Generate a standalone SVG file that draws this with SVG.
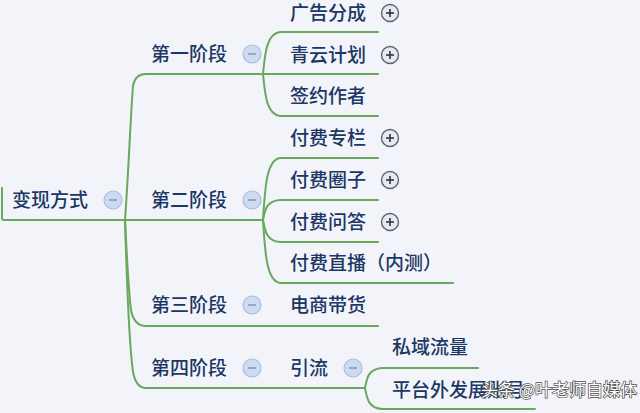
<svg xmlns="http://www.w3.org/2000/svg" width="640" height="413" viewBox="0 0 640 413">
<style>
  .t { font-family: "Noto Sans CJK SC", "Liberation Sans", sans-serif; font-size: 19px; font-weight: 500; fill: #1b3766; }
  .wm { font-family: "Noto Sans CJK SC", "Liberation Sans", sans-serif; font-size: 17px; fill: #ffffff; stroke: #4a4a4a; stroke-width: 1.4; paint-order: stroke; }
  .ln { fill: none; stroke: #6aa85f; stroke-width: 2; stroke-linecap: round; }
  .mc { fill: #cddbf0; stroke: #a8bfe2; stroke-width: 1.2; }
  .pc { fill: #e6e9f0; stroke: #5b6473; stroke-width: 1.4; }
  .ms { stroke: #8a9ab5; stroke-width: 1.6; }
  .ps { stroke: #2f3642; stroke-width: 1.6; }
</style>
<defs>
  <g id="minus"><circle r="9" class="mc"/><line x1="-4" y1="0" x2="4" y2="0" class="ms"/></g>
  <g id="plus"><circle r="8.5" class="pc"/><line x1="-4" y1="0" x2="4" y2="0" class="ps"/><line x1="0" y1="-4" x2="0" y2="4" class="ps"/></g>
</defs>
<rect width="640" height="413" fill="#f3f4f9"/>

<g id="connectors">
  <path class="ln" d="M2,188 L2,218 Q2,220 4,220 L263,220"/>
  <path class="ln" d="M125,220 C128,180 131,110 133,86 Q135,74 146,74 L263,74"/>
  <path class="ln" d="M125,220 C127,260 129,295 131,310 Q134,326 146,326 L378,326"/>
  <path class="ln" d="M125,220 C127,290 130,350 133,372 Q136,388 146,388 L365,388"/>
  <path class="ln" d="M263,74 C265,55 266,34 280,32 L378,32"/>
  <path class="ln" d="M263,74 L378,74"/>
  <path class="ln" d="M263,74 C265,93 266,114 280,116 L378,116"/>
  <path class="ln" d="M263,220 C265,190 266,160 280,158 L378,158"/>
  <path class="ln" d="M263,220 C265,210 266,201 280,200 L378,200"/>
  <path class="ln" d="M263,220 C265,230 266,241 280,242 L378,242"/>
  <path class="ln" d="M263,220 C265,250 266,281 280,283 L453,283"/>
  <path class="ln" d="M365,388 C367,378 368,369 382,368 L478,368"/>
  <path class="ln" d="M365,388 C367,398 368,408 382,409 L535,409"/>
</g>

<g id="root"><text class="t" x="12" y="207">变现方式</text><use href="#minus" x="113" y="200"/></g>

<g id="stage1"><text class="t" x="151" y="61">第一阶段</text><use href="#minus" x="252" y="54"/></g>
<g id="stage2"><text class="t" x="151" y="207">第二阶段</text><use href="#minus" x="252" y="200"/></g>
<g id="stage3"><text class="t" x="151" y="312">第三阶段</text><use href="#minus" x="252" y="305"/></g>
<g id="stage4"><text class="t" x="151" y="375">第四阶段</text><use href="#minus" x="252" y="368"/></g>

<g id="n-ad"><text class="t" x="290" y="20">广告分成</text><use href="#plus" x="390" y="13"/></g>
<g id="n-qingyun"><text class="t" x="290" y="62">青云计划</text><use href="#plus" x="390" y="55"/></g>
<g id="n-sign"><text class="t" x="290" y="103">签约作者</text></g>

<g id="n-column"><text class="t" x="290" y="145">付费专栏</text><use href="#plus" x="390" y="138"/></g>
<g id="n-circle"><text class="t" x="290" y="187">付费圈子</text><use href="#plus" x="390" y="180"/></g>
<g id="n-qa"><text class="t" x="290" y="229">付费问答</text><use href="#plus" x="390" y="222"/></g>
<g id="n-live"><text class="t" x="290" y="270">付费直播（内测）</text></g>

<g id="n-ecom"><text class="t" x="290" y="312">电商带货</text></g>

<g id="n-traffic"><text class="t" x="290" y="375">引流</text><use href="#minus" x="353" y="368"/></g>
<g id="n-private"><text class="t" x="392" y="354">私域流量</text></g>
<g id="n-outside"><text class="t" x="392" y="397">平台外发展账号</text></g>

<text class="wm" x="481" y="396">头条 @叶老师自媒体</text>
</svg>
